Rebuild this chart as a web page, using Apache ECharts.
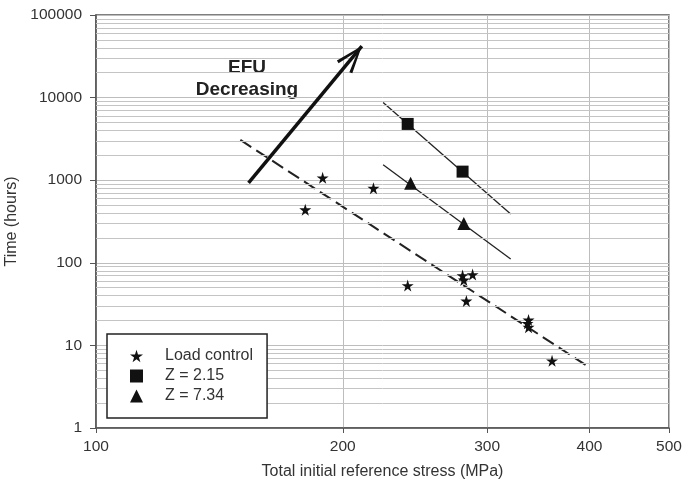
<!DOCTYPE html>
<html>
<head>
<meta charset="utf-8">
<script src="https://cdn.jsdelivr.net/npm/echarts@6/dist/echarts.min.js"></script>
<style>
  html, body { margin: 0; padding: 0; background: #fff; }
  #chart { width: 682px; height: 483px; }
</style>
</head>
<body>
<div id="chart"></div>
<script>
// tick labels
const xTicks = [100, 200, 300, 400, 500];
const yMinorGrid = [];
[1, 10, 100, 1000, 10000].forEach((d) => {
  for (let k = 2; k <= 9; k++) yMinorGrid.push(d * k);
});

// Load control (stress MPa, hours)
const loadControl = [
  [180, 440], [189, 1070], [218, 800], [240, 53],
  [280, 70], [281, 62], [288, 72], [283, 34.5],
  [337, 20.3], [336, 18.5], [337, 16.6], [360, 6.5]
];
// Z = 2.15
const z215 = [[240, 4800], [280, 1270]];
// Z = 7.34
const z734 = [[242, 920], [281, 300]];

// fitted lines (end points)
const z215Fit = [[224, 8700], [320.5, 390]];
const z734Fit = [[224, 1540], [320.5, 111]];
const loadFit = [[150, 3070], [400, 5.4]];

// EFU arrow
const arrowStart = [153.5, 930];
const arrowEnd = [211, 42000];

const starPath = "path://M50,0 L61,35 L98,35 L68,57 L79,91 L50,70 L21,91 L32,57 L2,35 L39,35 Z";
const chevronPath = "path://M10,0 L20,27 L17,28 L10,6 L3,28 L0,27 Z";
const font = "Liberation Sans, Arial, sans-serif";

const chart = echarts.init(document.getElementById("chart"));

chart.setOption({
  animation: false,
  textStyle: { fontFamily: font },
  grid: {
    left: 96, right: 13, top: 15, bottom: 55,
    outerBoundsMode: "none",
    containLabel: false,
    show: true, borderColor: "#555", borderWidth: 1.5
  },
  legend: {
    data: [
      { name: "Load control", icon: starPath },
      { name: "Z = 2.15", icon: "rect" },
      { name: "Z = 7.34", icon: "triangle" }
    ],
    orient: "vertical",
    left: 107, top: 334,
    z: 10,
    padding: [14, 14, 14, 23],
    itemWidth: 13, itemHeight: 13, itemGap: 4,
    backgroundColor: "#fff",
    borderColor: "#222", borderWidth: 1.5,
    itemStyle: { color: "#111" },
    textStyle: { fontSize: 16, color: "#333", fontFamily: font, padding: [0, 0, 0, 17] }
  },
  graphic: [
    {
      type: "text",
      x: 247, y: 57,
      style: {
        text: "EFU\nDecreasing",
        textAlign: "center",
        textVerticalAlign: "top",
        font: "bold 19px " + font,
        lineHeight: 22,
        fill: "#222"
      }
    }
  ],
  xAxis: {
    type: "log",
    min: 100, max: 500,
    name: "Total initial reference stress (MPa)",
    nameLocation: "middle",
    nameGap: 36,
    nameTextStyle: { fontSize: 16, color: "#333" },
    axisLine: { lineStyle: { color: "#555", width: 1.5 } },
    axisTick: { show: true, length: 5, customValues: xTicks, lineStyle: { color: "#555" } },
    axisLabel: { customValues: xTicks, fontSize: 15.5, color: "#333", margin: 11,
      formatter: (v) => String(Math.round(v)) },
    splitLine: { show: true, lineStyle: { color: "#bdbdbd", width: 1 } }
  },
  yAxis: {
    type: "log",
    min: 1, max: 100000,
    name: "Time (hours)",
    nameLocation: "middle",
    nameGap: 74,
    nameTextStyle: { fontSize: 16, color: "#333" },
    axisLine: { lineStyle: { color: "#555", width: 1.5 } },
    axisTick: { show: true, length: 6, lineStyle: { color: "#555" } },
    axisLabel: { fontSize: 15.5, color: "#333", margin: 14,
      formatter: (v) => String(Math.round(v)) },
    splitLine: { show: true, lineStyle: { color: "#bdbdbd", width: 1 } }
  },
  series: [
    {
      name: "grid",
      type: "line",
      data: [],
      z: 1,
      markLine: {
        silent: true,
        symbol: ["none", "none"],
        label: { show: false },
        lineStyle: { color: "#c4c4c4", width: 1, type: "solid" },
        data: yMinorGrid.map((v) => ({ yAxis: v }))
      }
    },
    {
      name: "loadFit",
      type: "line",
      data: loadFit,
      showSymbol: false,
      z: 3,
      lineStyle: { color: "#222", width: 2, type: [13, 6] }
    },
    {
      name: "z215Fit",
      type: "line",
      data: z215Fit,
      showSymbol: false,
      z: 3,
      lineStyle: { color: "#222", width: 1.3 }
    },
    {
      name: "z734Fit",
      type: "line",
      data: z734Fit,
      showSymbol: false,
      z: 3,
      lineStyle: { color: "#222", width: 1.3 }
    },
    {
      name: "arrow",
      type: "line",
      data: [],
      z: 4,
      markLine: {
        silent: true,
        symbol: ["none", chevronPath],
        symbolSize: [20, 28],
        symbolOffset: [[0, 0], [0, 14]],
        label: { show: false },
        lineStyle: { color: "#111", width: 3.5, type: "solid" },
        itemStyle: { color: "#111" },
        data: [[{ coord: arrowStart }, { coord: arrowEnd }]]
      }
    },
    {
      name: "Load control",
      type: "scatter",
      data: loadControl,
      symbol: starPath,
      symbolSize: 12,
      z: 5,
      itemStyle: { color: "#111", opacity: 1 }
    },
    {
      name: "Z = 2.15",
      type: "scatter",
      data: z215,
      symbol: "rect",
      symbolSize: 12,
      z: 5,
      itemStyle: { color: "#111", opacity: 1 }
    },
    {
      name: "Z = 7.34",
      type: "scatter",
      data: z734,
      symbol: "triangle",
      symbolSize: 13,
      z: 5,
      itemStyle: { color: "#111", opacity: 1 }
    }
  ]
});
</script>
</body>
</html>
